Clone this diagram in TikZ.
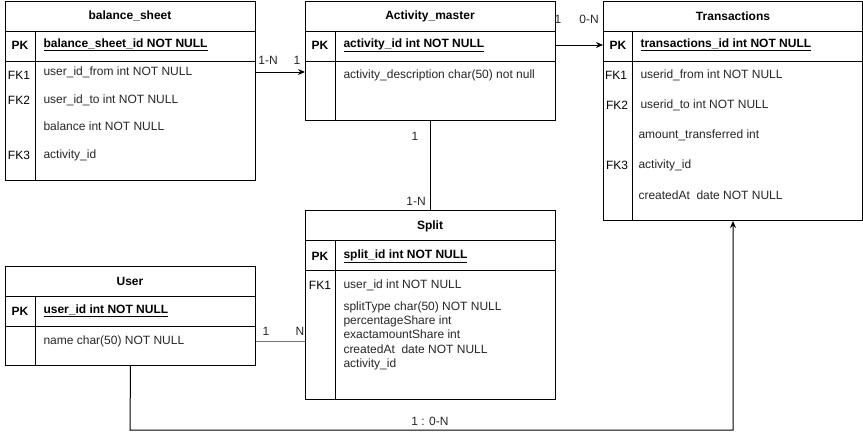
\documentclass[tikz,border=0pt]{standalone}
\usepackage{fontspec}
\setmainfont{Liberation Sans}
\usetikzlibrary{arrows.meta,calc}
\begin{document}
\begin{tikzpicture}[x=1pt,y=-1pt,line width=1pt,
  tbl/.style 2 args={draw,anchor=north west,inner sep=0pt,minimum width=#1pt,minimum height=#2pt},
  ttl/.style={inner sep=0pt,font=\fontsize{12}{14}\selectfont\bfseries},
  key/.style={inner sep=0pt,font=\fontsize{12}{14}\selectfont},
  pkkey/.style={inner sep=0pt,font=\fontsize{12}{14}\selectfont\bfseries},
  fld/.style={anchor=west,inner sep=0pt,font=\fontsize{12}{14}\selectfont,text=black!85},
  pkfld/.style={anchor=west,inner sep=0pt,font=\fontsize{12}{14}\selectfont\bfseries,text=black},
  lbl/.style={inner sep=0pt,font=\fontsize{12}{14}\selectfont,text=black!85},
  conn/.style={line width=1pt},
  arr/.style={line width=1pt,-{Stealth[length=7pt,width=6pt]}}]
\useasboundingbox (0,0) rectangle (863,439);
\newcommand\erlines[2]{%
  \draw ([yshift=-30pt]#1.north west) -- ([yshift=-30pt]#1.north east);
  \draw ([yshift=-60pt]#1.north west) -- ([yshift=-60pt]#1.north east);
  \draw ([yshift=-30pt,xshift=#2pt]#1.north west) -- ([xshift=#2pt]#1.south west);}

% ---------- balance_sheet
\node[tbl={250}{179}] (bs) at (5,1) {};
\erlines{bs}{30}
\node[ttl] (bst) at (130,16) {balance\_sheet};
\node[pkkey] (bspk) at (20,45) {PK};
\node[pkfld] (bspkf) at (43,45) {\underline{balance\_sheet\_id NOT NULL}};
\node[key] (bsk1) at (19,75) {FK1};
\node[fld] (bsf1) at (43,72) {user\_id\_from int NOT NULL};
\node[key] (bsk2) at (19,100) {FK2};
\node[fld] (bsf2) at (43,100) {user\_id\_to int NOT NULL};
\node[fld] (bsf3) at (43,126) {balance int NOT NULL};
\node[key] (bsk3) at (19,155) {FK3};
\node[fld] (bsf4) at (43,155) {activity\_id};

% ---------- Activity_master
\node[tbl={250}{119}] (am) at (305,1) {};
\erlines{am}{30}
\node[ttl] (amt) at (430,16) {Activity\_master};
\node[pkkey] (ampk) at (320,45) {PK};
\node[pkfld] (ampkf) at (343,45) {\underline{activity\_id int NOT NULL}};
\node[fld] (amf1) at (343,75) {activity\_description char(50) not null};

% ---------- Transactions
\node[tbl={259}{219}] (tr) at (603,1) {};
\erlines{tr}{29}
\node[ttl] (trt) at (733,16) {Transactions};
\node[pkkey] (trpk) at (618,45) {PK};
\node[pkfld] (trpkf) at (640,45) {\underline{transactions\_id int NOT NULL}};
\node[key] (trk1) at (616,75) {FK1};
\node[fld] (trf1) at (640,75) {userid\_from int NOT NULL};
\node[key] (trk2) at (617,105) {FK2};
\node[fld] (trf2) at (640,105) {userid\_to int NOT NULL};
\node[fld] (trf3) at (638,135) {amount\_transferred int};
\node[key] (trk3) at (617,165) {FK3};
\node[fld] (trf4) at (638,165) {activity\_id};
\node[fld] (trf5) at (638,195) {createdAt\ \ date NOT NULL};

% ---------- Split
\node[tbl={250}{189}] (sp) at (305,210) {};
\erlines{sp}{30}
\node[ttl] (spt) at (430,226) {Split};
\node[pkkey] (sppk) at (320,256) {PK};
\node[pkfld] (sppkf) at (343,256) {\underline{split\_id int NOT NULL}};
\node[key] (spk1) at (320,285) {FK1};
\node[fld] (spf1) at (343,285) {user\_id int NOT NULL};
\node[anchor=north west,inner sep=0pt,align=left,font=\fontsize{12}{14.3}\selectfont,text=black!85] (spf2) at (343,301)
  {splitType char(50) NOT NULL\\percentageShare int\\exactamountShare int\\createdAt\ \ date NOT NULL\\activity\_id};

% ---------- User
\node[tbl={250}{99}] (us) at (5,266) {};
\erlines{us}{30}
\node[ttl] (ust) at (130,281) {User};
\node[pkkey] (uspk) at (20,311) {PK};
\node[pkfld] (uspkf) at (43,311) {\underline{user\_id int NOT NULL}};
\node[fld] (usf1) at (43,341) {name char(50) NOT NULL};

% ---------- connectors
\draw[arr] (bs.east |- bsf1) -- (am.west |- bsf1);
\node[lbl] (l1) at (268,60) {1-N};
\node[lbl] (l2) at (297,60) {1};

\draw[arr] (am.east |- ampk) -- (tr.west |- ampk);
\node[lbl] (l3) at (558,19) {1};
\node[lbl] (l4) at (589,19) {0-N};

\draw[conn] (am.south) -- (sp.north);
\node[lbl] (l5) at (415,136) {1};
\node[lbl] (l6) at (416,201) {1-N};

\draw[conn,draw=black!55] (us.east |- usf1) -- (sp.west |- usf1);
\node[lbl] (l7) at (266,331) {1};
\node[lbl] (l8) at (300,331) {N};

\coordinate (cb) at (130,430);
\draw[arr] (us.south) -- (cb) -| (tr.south);
\node[lbl] (l9) at (430,421) {1 : 0-N};
\end{tikzpicture}
\end{document}
